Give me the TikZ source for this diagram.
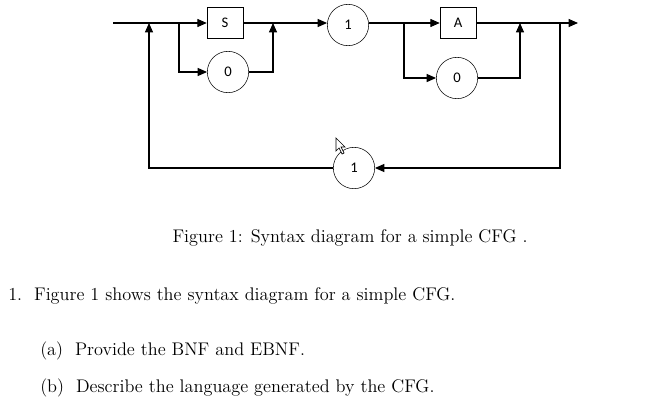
\documentclass[tikz,border=0pt]{standalone}
\usepackage{fontspec}
\newfontfamily\lblfont{Carlito}
\usetikzlibrary{arrows.meta}
\begin{document}
\begin{tikzpicture}[x=0.75pt,y=-0.75pt,
  ln/.style={line width=0.8pt},
  ar/.style={ln,-{Triangle[length=7pt,width=6pt]}},
  circ/.style={draw,circle,minimum size=31pt,inner sep=0pt,font=\lblfont\fontsize{11}{13}\selectfont},
  box/.style={draw,rectangle,minimum width=27pt,minimum height=23pt,inner sep=0pt,font=\lblfont\fontsize{11}{13}\selectfont},
  txt/.style={font=\fontsize{13.7}{16}\selectfont,anchor=west,inner sep=0pt}]
\useasboundingbox (0,0) rectangle (664,418);
\node[box] (S) at (225,23) {S};
\node[circ] (z1) at (228,72) {0};
\node[circ] (o1) at (348,25) {1};
\node[box] (A) at (458,23) {A};
\node[circ] (z2) at (457,78) {0};
\node[circ] (o2) at (354,168) {1};
\coordinate (st) at (113,23);
\coordinate (fb) at (149,23);
\coordinate (b1) at (179,23);
\coordinate (j1) at (273,23);
\coordinate (b2) at (404,23);
\coordinate (j2) at (520,23);
\coordinate (dn) at (560,23);
\coordinate (en) at (578,23);
\draw[ln] (st) -- (b1);
\draw[ar] (b1) -- (S.west);
\draw[ar] (b1) |- (z1.west);
\draw[ln] (S.east) -- (j1);
\draw[ar] (z1.east) -| (j1);
\draw[ar] (j1) -- (o1.west |- j1);
\draw[ln] (o1.east |- b2) -- (b2);
\draw[ar] (b2) -- (A.west |- b2);
\draw[ar] (b2) |- (z2.west);
\draw[ln] (A.east |- j2) -- (j2);
\draw[ar] (z2.east) -| (j2);
\draw[ar] (j2) -- (en);
\draw[ar] (dn) |- (o2.east);
\draw[ar] (o2.west) -| (fb);
\draw[line width=0.5pt,fill=white] (336,138) -- (336,151) -- (339,148) -- (342,154) -- (344,153) -- (341,147) -- (345,147) -- cycle;
\node[font=\fontsize{13.7}{16}\selectfont] (cap) at (350,238) {Figure 1: Syntax diagram for a simple CFG .};
\node[txt] (q1) at (8,296) {1.\ \ Figure 1 shows the syntax diagram for a simple CFG.};
\node[txt] (qa) at (40,351) {(a)\ \ Provide the BNF and EBNF.};
\node[txt] (qb) at (40,388) {(b)\ \ Describe the language generated by the CFG.};
\end{tikzpicture}
\end{document}
